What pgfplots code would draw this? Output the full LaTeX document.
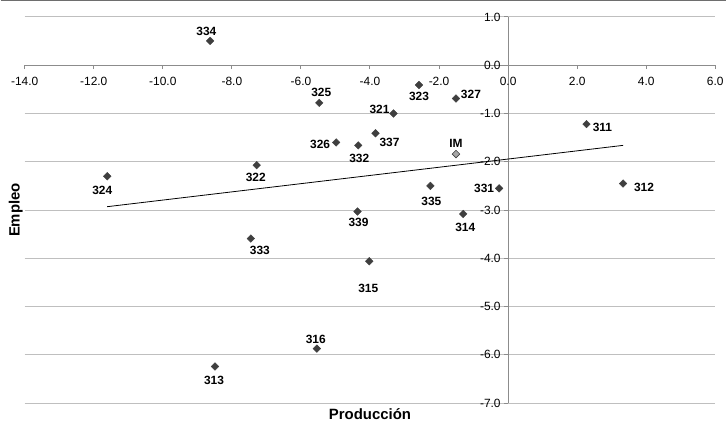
\documentclass[border=0pt]{standalone}
\usepackage{fontspec}
\setmainfont{Liberation Sans}
\usepackage{pgfplots}
\pgfplotsset{compat=1.18}
\usepackage{pgfplotstable}

\definecolor{mk}{HTML}{3F3F3F}
\definecolor{imc}{HTML}{A6A6A6}
\definecolor{gridc}{HTML}{BFBFBF}
\definecolor{axc}{HTML}{8C8C8C}
\definecolor{topc}{HTML}{6E6E6E}

\pgfplotstableread{
x y lbl dx dy
-8.63 0.505 334 -3.7 9
-5.47 -0.78 325 2 10.6
-4.98 -1.60 326 -16 -1.5
-4.34 -1.66 332 1 -13
-7.28 -2.07 322 -1 -12.6
-11.61 -2.30 324 -5 -13.7
-2.58 -0.41 323 0 -11
-1.51 -0.69 327 15 4
-3.32 -1.00 321 -14 3.7
-3.84 -1.41 337 14 -9.6
2.27 -1.22 311 16 -3
3.33 -2.45 312 21 -3.7
-2.25 -2.50 335 1 -15.6
-0.26 -2.55 331 -15 0
-4.36 -3.03 339 1 -11
-1.30 -3.08 314 2 -14
-7.45 -3.59 333 9 -12
-4.02 -4.06 315 -1 -27
-5.54 -5.87 316 -1 9.6
-8.49 -6.24 313 -1 -14
}\pts

\pgfplotstableread{
x y lbl dx dy
-1.51 -1.84 IM 0 10.7
}\ptsim

\begin{document}
\begin{tikzpicture}
\begin{axis}[
  scale only axis, width=692bp, height=387bp,
  axis lines=middle,
  axis line style={axc, -, line width=1bp},
  xmin=-14, xmax=6, ymin=-7, ymax=1,
  xtick={-14,-12,...,6}, ytick={-7,-6,...,1},
  ymajorgrids, grid style={gridc, line width=1bp},
  tick style={axc, line width=1bp},
  major tick length=4bp, tick align=outside,
  hide obscured x ticks=false, hide obscured y ticks=false,
  xticklabel style={font=\fontsize{12}{14}\selectfont, text=black, anchor=north, yshift=-4.5bp},
  yticklabel style={font=\fontsize{12}{14}\selectfont, text=black, anchor=east},
  /pgf/number format/fixed,
  /pgf/number format/fixed zerofill,
  /pgf/number format/precision=1,
  /pgf/number format/assume math mode=true,
  /pgf/number format/1000 sep={},
  xlabel={Producción}, ylabel={Empleo},
  every axis x label/.style={at={(axis description cs:0.5,0)}, anchor=north, yshift=-2bp, font=\fontsize{15}{17}\bfseries\selectfont},
  every axis y label/.style={at={(axis description cs:0,0.5)}, rotate=90, anchor=south, yshift=-1.5bp, font=\fontsize{15}{17}\bfseries\selectfont},
  clip=false,
]
\coordinate (bl) at (rel axis cs:0,0);
\coordinate (tr) at (rel axis cs:1,1);
\addplot[black, line width=0.8bp] coordinates {(-11.61,-2.93) (3.33,-1.66)};
\addplot[only marks, mark=square*, mark size=2.7bp,
  mark options={rotate=45, fill=mk, draw=mk},
  point meta=explicit symbolic, nodes near coords, nodes near coords align={center},
  visualization depends on={\thisrow{dx} \as \dx},
  visualization depends on={\thisrow{dy} \as \dy},
  every node near coord/.append style={anchor=center, inner sep=0pt, xshift=\dx bp, yshift=\dy bp, font=\fontsize{12}{14}\bfseries\selectfont, text=black}
] table[x=x, y=y, meta=lbl]{\pts};
\addplot[only marks, mark=square*, mark size=2.7bp,
  mark options={rotate=45, fill=imc, draw=mk, line width=0.6bp},
  point meta=explicit symbolic, nodes near coords, nodes near coords align={center},
  visualization depends on={\thisrow{dx} \as \dx},
  visualization depends on={\thisrow{dy} \as \dy},
  every node near coord/.append style={anchor=center, inner sep=0pt, xshift=\dx bp, yshift=\dy bp, font=\fontsize{12}{14}\bfseries\selectfont, text=black}
] table[x=x, y=y, meta=lbl]{\ptsim};
\end{axis}
\pgfresetboundingbox
\path ([shift={(-24bp,-20bp)}]bl) rectangle ([shift={(11bp,17bp)}]tr);
\draw[topc, line width=1.5bp] ([shift={(-24bp,16.25bp)}]bl |- tr) -- ([shift={(11bp,16.25bp)}]tr);
\end{tikzpicture}
\end{document}
